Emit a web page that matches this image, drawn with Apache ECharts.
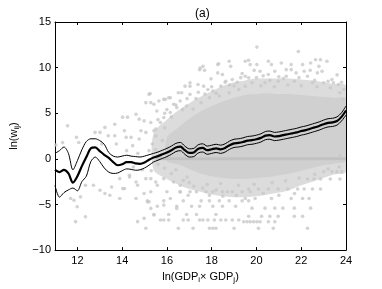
<!DOCTYPE html>
<html>
<head>
<meta charset="utf-8">
<script src="https://cdn.jsdelivr.net/npm/echarts@6/dist/echarts.min.js"></script>
<style>
html,body{margin:0;padding:0;background:#fff;}
#chart{width:382px;height:289px;}
</style>
</head>
<body>
<div id="chart"></div>
<script>
// ---- data ----
const xTicks = [12, 14, 16, 18, 20, 22, 24];

// smoothed fit (thick) and its confidence bands (thin)
const fitX = [11.0,11.2,11.4,11.6,11.8,12.0,12.2,12.4,12.6,12.8,13.0,13.2,13.4,13.6,13.8,14.0,14.2,14.4,14.6,14.8,15.0,15.2,15.4,15.6,15.8,16.0,16.2,16.4,16.6,16.8,17.0,17.2,17.4,17.6,17.8,18.0,18.2,18.4,18.6,18.8,19.0,19.2,19.4,19.6,19.8,20.0,20.2,20.4,20.6,20.8,21.0,21.2,21.4,21.6,21.8,22.0,22.2,22.4,22.6,22.8,23.0,23.2,23.4,23.6,23.8,24.0];
const fitMean = [-1.2,-1.45,-1.2,-1.6,-2.6,-1.9,-0.8,0.2,1.15,1.25,0.85,0.45,0.1,-0.35,-0.7,-0.6,-0.35,-0.35,-0.5,-0.55,-0.4,-0.1,0.15,0.3,0.5,0.7,0.95,1.25,1.35,0.95,0.65,0.7,1.1,1.2,0.95,1.05,1.15,1.05,1.2,1.5,1.7,1.75,1.85,2.0,2.05,2.15,2.3,2.55,2.6,2.45,2.5,2.6,2.7,2.8,2.9,3.05,3.15,3.3,3.45,3.6,3.8,3.95,4.0,4.15,4.6,5.3];
const fitUpper = [0.6,0.9,1.3,0.6,-1.2,-0.2,1.0,1.9,2.2,2.2,2.0,1.6,0.7,0.3,0.2,0.3,0.4,0.3,0.25,0.2,0.3,0.45,0.6,0.75,0.95,1.15,1.4,1.7,1.8,1.4,1.1,1.15,1.55,1.65,1.4,1.5,1.6,1.5,1.65,1.95,2.15,2.2,2.3,2.45,2.5,2.6,2.75,3.0,3.05,2.9,2.95,3.05,3.15,3.25,3.35,3.5,3.6,3.75,3.9,4.05,4.25,4.4,4.45,4.6,5.05,5.8];
const fitLower = [-2.9,-4.2,-3.7,-3.4,-3.2,-3.5,-2.5,-1.9,-0.3,0.2,-0.3,-1.0,-1.45,-1.6,-1.55,-1.3,-1.1,-1.15,-1.25,-1.2,-1.0,-0.7,-0.35,-0.15,0.05,0.25,0.5,0.8,0.9,0.5,0.2,0.25,0.65,0.75,0.5,0.6,0.7,0.6,0.75,1.05,1.25,1.3,1.4,1.55,1.6,1.7,1.85,2.1,2.15,2.0,2.05,2.15,2.25,2.35,2.45,2.6,2.7,2.85,3.0,3.15,3.35,3.5,3.55,3.7,4.15,4.8];

// envelopes of the point cloud: medium-density zone and dense (near-solid) zone
const midX = [15.4,16,16.5,17,17.5,18,18.5,19,19.5,20,20.5,21,21.5,22,22.5,23,23.5,24];
const midUpper = [2.8,4.3,5.3,6.1,6.8,7.4,8.0,8.4,8.6,8.8,8.8,8.8,8.8,8.7,8.6,8.4,8.2,8.0];
const midLower = [-1.2,-2.2,-2.8,-3.3,-3.6,-3.9,-4.1,-4.2,-4.2,-4.1,-3.9,-3.7,-3.4,-2.9,-2.5,-2.1,-1.7,-1.4];
const coreX = [16,16.5,17,17.5,18,18.5,19,19.5,20,20.5,21,21.5,22,22.5,23,23.5,24];
const coreUpper = [2.3,3.4,4.4,5.2,5.8,6.3,6.7,7.0,7.1,7.2,7.1,7.1,7.0,6.9,6.8,6.7,6.6];
const coreLower = [-0.2,-0.6,-1.1,-1.6,-1.9,-2.1,-2.2,-2.2,-2.1,-2.0,-1.8,-1.6,-1.3,-1.0,-0.7,-0.5,-0.2];

// row of observations at ln(w)=0
const zeroRow = [[15.5,0],[24,0]];

// sparser observations around the dense part
const cloudTop = [[15.2,7.07],[15.28,6.16],[15.93,6.52],[16.15,6.7],[16.51,7.25],[16.81,7.97],[17.03,8.34],[11.56,3.62],[14.02,4.57],[14.24,4.57],[14.62,4.89],[14.76,4.35],[14.98,4.16],[15.55,5.25],[15.28,3.99],[15.71,3.99],[15.86,4.53],[16.15,5.08],[16.44,5.62],[13.67,3.8],[13.23,3.45],[12.79,2.9],[12.06,1.8],[13.67,2.53],[14.1,3.08],[14.4,2.36],[14.84,3.08],[15.42,3.08],
[19.65,10.8],[18.85,10.14],[18.31,10.43],[17.61,10.14],[17.68,9.7],[17.49,9.96],[18.27,9.42],[18.48,9.24],[19.36,9.35],[19.65,8.88],[17.97,8.77],[18.92,8.7],[18.63,8.51],[19.14,8.4],[17.03,7.97],[17.39,8.15],[17.64,7.97],[16.66,7.25],[17.03,7.07],[17.83,7.6],[18.05,7.43],[18.41,7.97],[15.25,7.17],[16.08,6.7],[15.86,6.52],[15.64,6.34],[15.06,6.16],[15.42,5.98],[16.3,5.98],[16.59,6.34],[16.88,5.8],[17.17,5.43],[17.53,6.16],[17.9,6.7],[18.34,6.88],[18.78,7.25],[19.21,7.6],[19.5,7.97],
[20.02,12.25],[21.87,11.77],[18.27,10.33],[18.78,10.69],[19.5,10.69],[19.72,10.33],[20.53,10.69],[20.67,10.33],[21.33,9.78],[21.55,10.33],[22.64,10.87],[22.79,10.14],[22.93,9.6],[22.13,9.6],[17.46,9.78],[23.44,8.34],[23.73,7.25],[23.88,6.52],
[20.02,10.33],[21.11,10.51],[21.55,9.78],[22.06,10.33],[22.42,10.51],[22.86,10.87],[23.15,10.69],[19.5,9.06],[20.16,9.6],[20.53,9.24],[20.82,9.6],[21.33,9.06],[21.77,9.42],[22.28,9.06],[22.72,9.42],[23.37,8.7],[23.66,8.15],[19.8,8.34],[20.38,8.34],[20.97,8.51],[21.69,8.51],[22.5,8.34],[23.0,8.34],
[20.2,8.0],[20.8,7.9],[21.4,8.1],[22.0,8.0],[22.7,7.9],[23.3,7.8],[23.9,7.6],[19.0,8.0],[18.2,7.2],[17.3,6.6],[16.7,5.4],[16.2,4.6],[15.9,3.4],[15.5,2.5],[16.0,5.4],[17.7,7.1],[18.8,8.1],[21.0,9.0],[22.4,9.7],[20.3,9.1],[23.6,9.2],[19.9,9.7],
[19.3,8.9],[20.0,8.9],[20.6,8.6],[21.2,8.8],[21.9,8.9],[22.6,8.6],[23.2,8.5],[23.8,8.4],[18.6,8.4],[18.0,7.9],[17.4,7.3],[16.9,6.6],[16.4,5.9],[15.9,5.0],[15.6,4.3]];

const cloudLeft = [[13.09,1.63],[12.36,-2.9],[11.85,-4.53],[12.36,-6.34],[11.92,-6.88],[13.23,-3.8],[13.53,-3.08],[13.89,-2.17],[14.1,-3.26],[14.33,-1.81],[14.69,-2.9],[14.98,-3.8],[14.62,-4.35],[15.13,-4.71],[15.28,-5.43],[14.69,-6.88],[14.98,-6.52],[15.42,-6.16],[15.71,-6.7],[15.86,-5.07],[16.15,-4.35],[16.44,-5.43],[16.59,-3.62],[16.95,-3.99],[15.57,-2.9],[15.28,-2.17],[15.86,-2.17],[16.3,-2.53],[16.73,-2.36],[11.04,1.52],[11.34,1.8],
[11.96,2.36],[13.01,2.9],[13.38,2.53],[13.74,1.63],[14.18,2.36],[14.47,1.45],[14.76,2.17],[15.06,2.9],[15.35,1.63],[15.5,3.26],[14.33,-1.99],[14.62,-2.53],[15.06,-2.17],[15.5,-2.53],[14.03,-3.26],[13.89,-4.35],[13.45,-3.99],[13.01,-3.44],[12.72,-2.9],[15.2,-4.71],[11.7,-4.35],[11.99,-5.25],[12.14,-4.17],
[15.2,0.9],[15.5,1.0],[15.8,2.0],[16.0,1.2],[15.9,-1.0],[15.6,-0.6],[15.3,-1.3],[14.9,-1.2],[14.5,-0.9],[14.2,0.9],[14.7,0.6]];

const cloudBottom = [[15.86,-6.7],[16.08,-6.7],[16.73,-6.7],[16.95,-6.7],[17.46,-6.7],[17.61,-6.7],[17.83,-6.7],[18.12,-6.7],[18.41,-6.7],[18.63,-6.7],[18.92,-6.7],[19.21,-6.7],
[15.06,-7.6],[16.51,-7.6],[17.17,-7.6],[17.9,-7.6],[18.05,-7.6],[18.19,-7.6],[19.0,-7.6],
[15.42,-6.1],[16.08,-6.1],[16.88,-6.1],[17.32,-6.1],[18.19,-6.1],
[15.57,-5.2],[16.44,-5.2],[17.1,-5.2],[17.46,-5.2],[18.05,-5.2],[18.48,-5.2],[19.07,-5.2],
[15.13,-4.6],[15.86,-4.6],[16.73,-4.6],[17.53,-4.6],[17.9,-4.6],[18.34,-4.6],[18.78,-4.6],[19.36,-4.6],[19.65,-4.6],
[15.28,-3.6],[16.0,-3.6],[16.59,-3.6],[17.03,-3.6],[17.32,-3.6],[17.75,-3.6],[18.05,-3.6],[18.48,-3.6],[18.92,-3.6],[19.36,-3.6],[19.72,-3.6],
[19.43,-6.9],[19.58,-6.9],[19.72,-6.9],[19.87,-6.9],[20.02,-6.9],[20.16,-6.9],[20.53,-6.9],[20.82,-6.9],
[20.09,-7.6],[20.75,-7.6],[22.28,-7.6],
[19.65,-6.3],[20.23,-6.3],[20.6,-6.3],[20.97,-6.3],[21.69,-6.3],[22.06,-6.3],
[19.8,-5.4],[20.38,-5.4],[20.82,-5.4],[21.18,-5.4],[21.69,-5.4],[22.42,-5.4],
[19.5,-4.35],[19.94,-4.35],[20.67,-4.35],[21.55,-4.35],[22.06,-4.35],[22.35,-4.35],
[19.65,-3.3],[20.09,-3.3],[20.53,-3.3],[20.97,-3.3],[21.4,-3.3],[21.84,-3.3],[22.13,-3.3],[22.5,-3.3],[22.86,-3.3],
[22.28,-2.2],[22.57,-2.2],[22.86,-2.2],[23.3,-2.2],[23.73,-2.2],
[23.0,-1.4],[23.37,-1.4],[23.59,-1.4],[23.81,-1.4],[23.73,0.36],
[16.2,-1.6],[16.6,-2.9],[17.2,-3.0],[17.6,-3.2],[18.2,-3.4],[18.7,-3.6],[17.9,-4.0],[18.5,-4.1],[19.1,-4.0],[16.9,-2.0],[16.4,-1.2],
[17.0,-2.6],[17.8,-2.8],[18.4,-2.7],[19.2,-2.9],[19.9,-2.8],[20.7,-2.6],[21.3,-2.4],[21.9,-2.1],[22.6,-1.7],[23.2,-1.1],[23.7,-0.9],[20.3,-3.8],[21.0,-4.0],[21.7,-3.8]];

// ---- chart ----
const FONT = 'Liberation Sans, Arial, Helvetica, sans-serif';
const pairs = (xs, ys) => xs.map((x, i) => [x, ys[i]]);
const DOT = '#c8c8c8';

const chart = echarts.init(document.getElementById('chart'), null, {renderer: 'canvas'});

const axisCommon = {
  axisLine: {show: true, onZero: false, lineStyle: {color: '#000', width: 1}},
  splitLine: {show: false},
};

function bandPolygon(xs, up, lo, fill) {
  return function (params, api) {
    const pts = [];
    for (let i = 0; i < xs.length; i++) pts.push(api.coord([xs[i], up[i]]));
    for (let i = xs.length - 1; i >= 0; i--) pts.push(api.coord([xs[i], lo[i]]));
    return {type: 'polygon', shape: {points: pts, smooth: 0.3}, style: {fill: fill}};
  };
}

chart.setOption({
  animation: false,
  backgroundColor: '#fff',
  title: {
    text: '(a)',
    left: 190, top: 3,
    textStyle: {fontFamily: FONT, fontSize: 12, fontWeight: 'normal', color: '#000'}
  },
  grid: {left: 49, right: 36, top: 22, bottom: 37, containLabel: false},
  xAxis: [
    Object.assign({}, axisCommon, {
      type: 'value', min: 11, max: 24, position: 'bottom',
      axisTick: {show: true, inside: true, length: 3, customValues: xTicks, lineStyle: {color: '#000'}},
      axisLabel: {show: true, customValues: xTicks, margin: 5, color: '#000', fontFamily: FONT, fontSize: 11},
      name: '{n|ln(GDP}{s|i}{n|× GDP}{s|j}{n|)}',
      nameLocation: 'middle', nameGap: 16,
      nameTextStyle: {
        color: '#000', fontFamily: FONT, fontSize: 11,
        rich: {
          n: {fontFamily: FONT, fontSize: 11, color: '#000'},
          s: {fontFamily: FONT, fontSize: 8, color: '#000', padding: [7, 0, 0, 0]}
        }
      }
    }),
    Object.assign({}, axisCommon, {
      type: 'value', min: 11, max: 24, position: 'top',
      axisTick: {show: true, inside: true, length: 3, customValues: xTicks, lineStyle: {color: '#000'}},
      axisLabel: {show: false}
    })
  ],
  yAxis: [
    Object.assign({}, axisCommon, {
      type: 'value', min: -10, max: 15, interval: 5, position: 'left',
      axisTick: {show: true, inside: true, length: 3, lineStyle: {color: '#000'}},
      axisLabel: {show: true, margin: 4, color: '#000', fontFamily: FONT, fontSize: 11,
        formatter: v => (v < 0 ? '\u2212' + Math.abs(v) : String(v))},
      name: '{n|ln(w}{s|ij}{n|)}',
      nameLocation: 'middle', nameGap: 34,
      nameTextStyle: {
        color: '#000', fontFamily: FONT, fontSize: 11,
        rich: {
          n: {fontFamily: FONT, fontSize: 11, color: '#000'},
          s: {fontFamily: FONT, fontSize: 8, color: '#000', padding: [7, 0, 0, 0]}
        }
      }
    }),
    Object.assign({}, axisCommon, {
      type: 'value', min: -10, max: 15, interval: 5, position: 'right',
      axisTick: {show: true, inside: true, length: 3, lineStyle: {color: '#000'}},
      axisLabel: {show: false}
    })
  ],
  series: [
    {
      type: 'custom', name: 'cloudMid', z: 1, silent: true, clip: true,
      data: [[midX[0], midLower[0]]],
      renderItem: bandPolygon(midX, midUpper, midLower, '#dcdcdc')
    },
    {
      type: 'custom', name: 'cloudCore', z: 1, silent: true, clip: true,
      data: [[coreX[0], coreLower[0]]],
      renderItem: bandPolygon(coreX, coreUpper, coreLower, '#d0d0d0')
    },
    {
      type: 'line', name: 'zero', z: 2, data: zeroRow, showSymbol: false, silent: true,
      lineStyle: {color: '#c2c2c2', width: 3}
    },
    {type: 'scatter', name: 'top', z: 3, data: cloudTop, symbolSize: 3.6, itemStyle: {color: DOT}, silent: true},
    {type: 'scatter', name: 'left', z: 3, data: cloudLeft, symbolSize: 3.6, itemStyle: {color: DOT}, silent: true},
    {type: 'scatter', name: 'bottom', z: 3, data: cloudBottom, symbolSize: 3.6, itemStyle: {color: DOT}, silent: true},
    {
      type: 'line', name: 'upper', z: 4, data: pairs(fitX, fitUpper), showSymbol: false, smooth: 0.3,
      lineStyle: {color: '#000', width: 1}, silent: true
    },
    {
      type: 'line', name: 'lower', z: 4, data: pairs(fitX, fitLower), showSymbol: false, smooth: 0.3,
      lineStyle: {color: '#000', width: 1}, silent: true
    },
    {
      type: 'line', name: 'mean', z: 5, data: pairs(fitX, fitMean), showSymbol: false, smooth: 0.3,
      lineStyle: {color: '#000', width: 2.2}, silent: true
    }
  ]
});
</script>
</body>
</html>
